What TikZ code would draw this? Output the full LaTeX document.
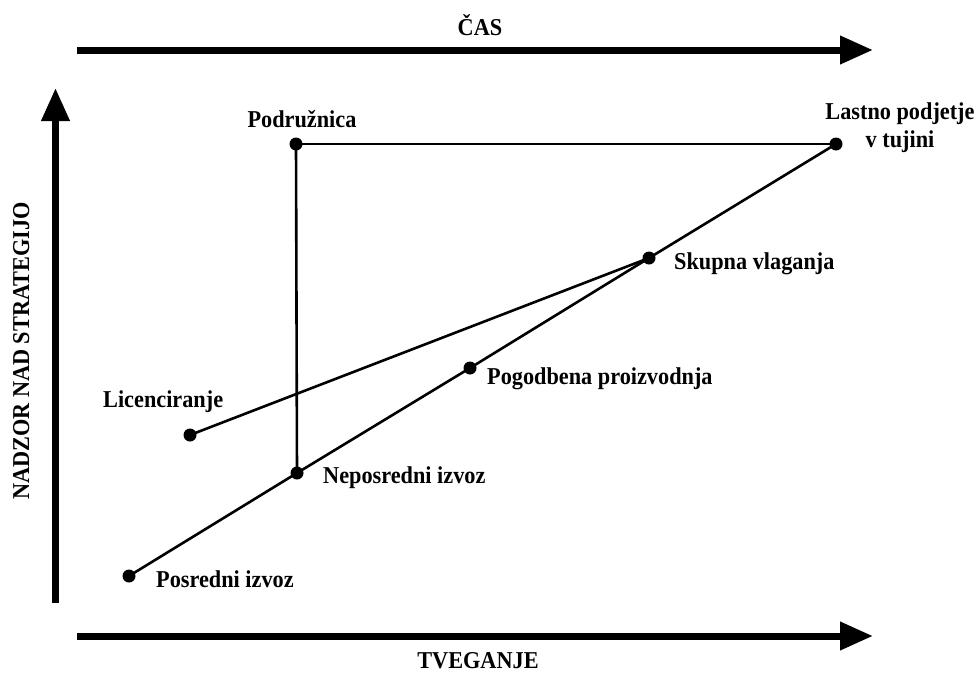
\documentclass[tikz,border=0pt]{standalone}
\usepackage{fontspec}
\setmainfont{Liberation Serif}[FakeStretch=0.92]
\usetikzlibrary{arrows.meta}
\begin{document}
\begin{tikzpicture}[x=1pt,y=-1pt,
  lbl/.style={inner sep=0pt, font=\fontsize{24.2}{28}\selectfont\bfseries},
  pt/.style={circle, fill=black, minimum size=13pt, inner sep=0pt},
  link/.style={line width=2.6pt},
  axis/.style={line width=7pt, -{Triangle[length=33pt,width=27pt]}}]
\useasboundingbox (0,0) rectangle (978,675);

% axes
\coordinate (t0) at (77,50);   \coordinate (t1) at (873,50);
\coordinate (b0) at (77,636);  \coordinate (b1) at (873,636);
\coordinate (v0) at (55.5,603); \coordinate (v1) at (55.5,88);
\draw[axis] (t0) -- (t1);
\draw[axis] (b0) -- (b1);
\draw[axis] (v0) -- (v1);
\node[lbl, anchor=base] (cas) at (480,35) {ČAS};
\node[lbl, anchor=base] (tveg) at (478,668) {TVEGANJE};
\node[lbl, anchor=base, rotate=90] (nadzor) at (29,351) {NADZOR NAD STRATEGIJO};

% entry modes
\node[pt] (posr) at (129,576) {};
\node[pt] (neposr) at (297,473) {};
\node[pt] (lic) at (190,435) {};
\node[pt] (pogod) at (470,368) {};
\node[pt] (skup) at (649,258) {};
\node[pt] (last) at (836,144) {};
\node[pt] (podr) at (296,144) {};

\draw[link] (posr.center) -- (neposr.center) -- (pogod.center) -- (skup.center) -- (last.center);
\draw[link] (lic.center) -- (skup.center);
\draw[link] (podr.center) -- (last.center);
\draw[link] (podr.center) -- (neposr.center);

\node[lbl, anchor=base west] (posrL) at (156,587) {Posredni izvoz};
\node[lbl, anchor=base west] (neposrL) at (323,483) {Neposredni izvoz};
\node[lbl, anchor=base west] (licL) at (103,407) {Licenciranje};
\node[lbl, anchor=base west] (pogodL) at (487,384) {Pogodbena proizvodnja};
\node[lbl, anchor=base west] (skupL) at (674,269) {Skupna vlaganja};
\node[lbl, anchor=base] (podrL) at (302,127) {Podružnica};
\node[lbl, anchor=north, align=center] (lastL) at (900,103) {Lastno podjetje\\v tujini};
\end{tikzpicture}
\end{document}
